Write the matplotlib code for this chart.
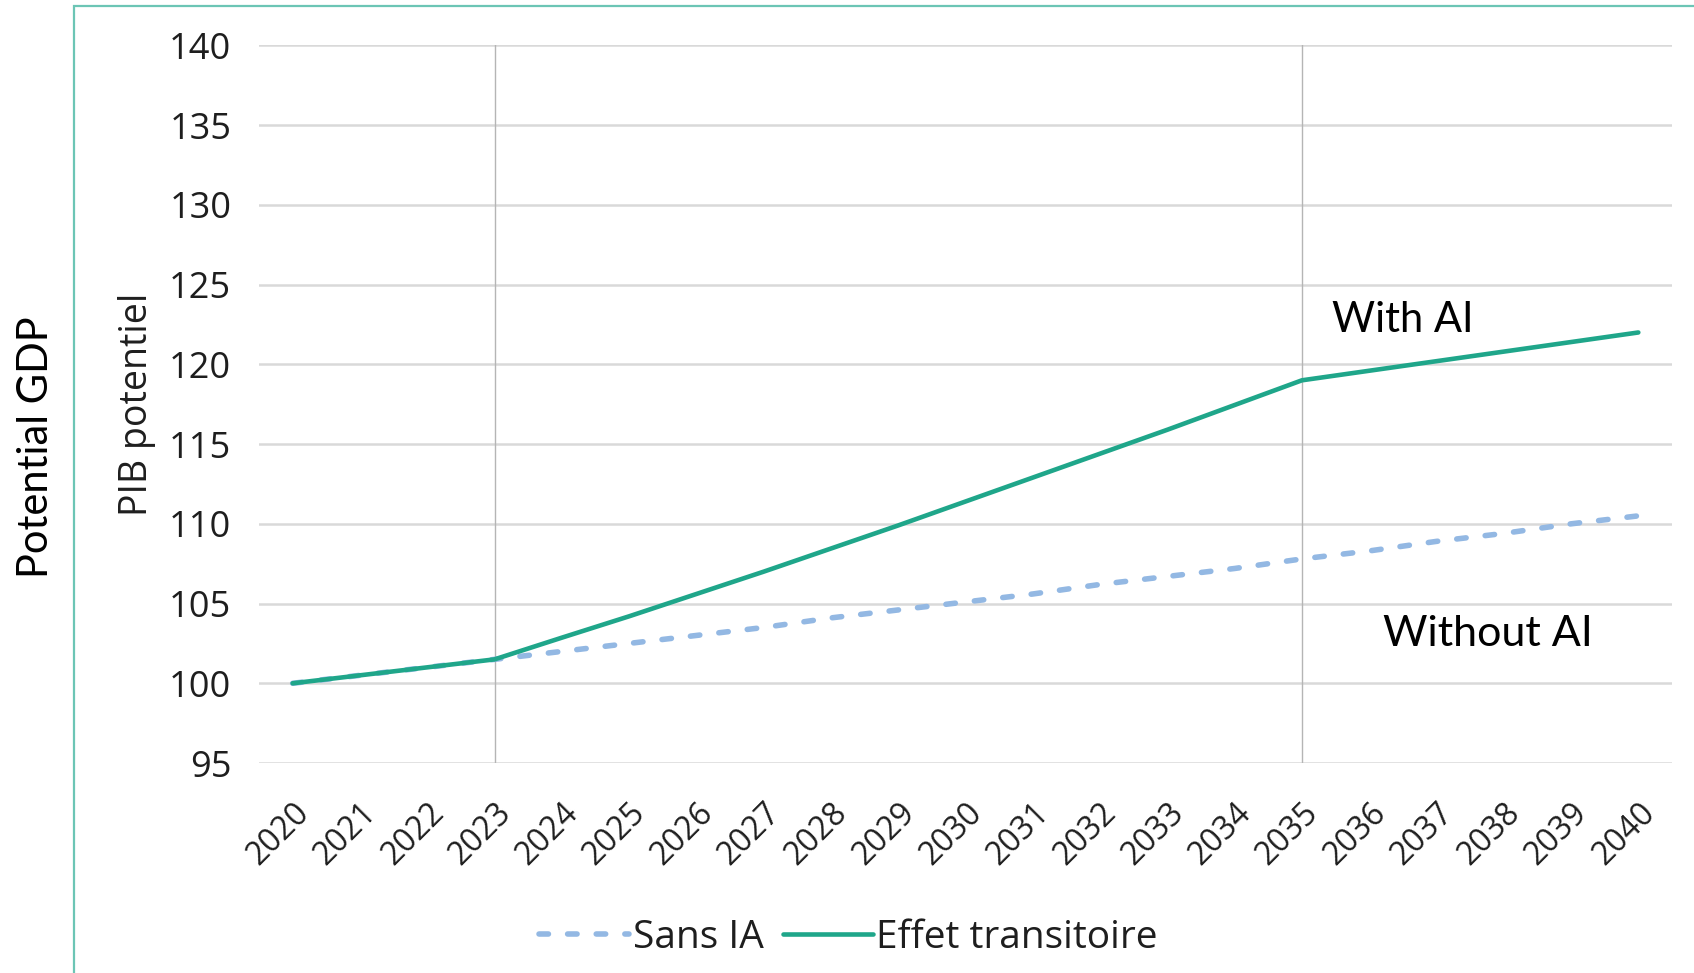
import matplotlib
matplotlib.use("Agg")
import matplotlib.pyplot as plt
from matplotlib.patches import Rectangle

years = [str(y) for y in range(2020, 2041)]

# Potential GDP index (2020 = 100)
sans_ia = [100.0, 100.5, 101.0, 101.5, 102.0, 102.5, 103.0, 103.5, 104.1, 104.6,
           105.1, 105.6, 106.2, 106.7, 107.2, 107.8, 108.3, 108.9, 109.4, 110.0, 110.5]
effet_transitoire = [100.0, 100.5, 101.0, 101.5, 102.86, 104.2, 105.6, 107.0, 108.45,
                     109.9, 111.4, 112.9, 114.4, 115.9, 117.45, 119.0, 119.6, 120.2,
                     120.8, 121.4, 122.0]
marker_years = ["2023", "2035"]
y_ticks = list(range(95, 141, 5))

GREEN = "#1fa68a"
BLUE = "#93b8e3"
INK = "#1e1e1e"
TICK_FONT = ["Open Sans", "DejaVu Sans"]
NOTE_FONT = ["Lato", "DejaVu Sans"]

fig = plt.figure(figsize=(16.94, 9.73), dpi=100)
fig.patch.set_facecolor("white")

# thin teal frame around the chart
fig.patches.append(Rectangle((0.0437, -0.05), 1.0, 1.0438, transform=fig.transFigure,
                             fill=False, edgecolor="#6cc5b5", linewidth=1.6))

ax = fig.add_axes([0.1529, 0.2158, 0.8341, 0.7375])
x = list(range(len(years)))

ax.set_xlim(-0.5, len(years) - 0.5)
ax.set_ylim(95, 140)
ax.set_yticks(y_ticks)
ax.set_yticklabels([str(t) for t in y_ticks], fontsize=26, family=TICK_FONT, color=INK)
ax.set_xticks(x)
ax.set_xticklabels(years, rotation=45, ha="right", rotation_mode="anchor",
                   fontsize=23, family=TICK_FONT, color=INK)
ax.tick_params(axis="both", length=0)
ax.tick_params(axis="y", pad=20)
ax.tick_params(axis="x", pad=24)

for s in ax.spines.values():
    s.set_visible(False)
ax.grid(axis="y", color="#d9d9d9", linewidth=1.8)
ax.set_axisbelow(True)

for yr in marker_years:
    ax.axvline(years.index(yr), color="#b5b5b5", linewidth=1.0, zorder=1)

ax.plot(x, sans_ia, color=BLUE, linewidth=4.0, linestyle=(0, (1.7, 3.45)),
        dash_capstyle="round", label="Sans IA", zorder=2)
ax.plot(x, effet_transitoire, color=GREEN, linewidth=3.3, solid_capstyle="round",
        label="Effet transitoire", zorder=3)

ax.set_ylabel("PIB potentiel", fontsize=27, family=TICK_FONT, color=INK, labelpad=9)

ax.text(15.45, 122.8, "With AI", fontsize=30, family=NOTE_FONT, color="black",
        ha="left", va="center")
ax.text(16.2, 103.1, "Without AI", fontsize=31, family=NOTE_FONT, color="black",
        ha="left", va="center")

fig.text(0.0215, 0.54, "Potential GDP", rotation=90, fontsize=30, family=NOTE_FONT,
         ha="center", va="center", color="black")

leg = fig.legend(loc="center", bbox_to_anchor=(0.501, 0.036), ncol=2, frameon=False,
                 prop={"family": TICK_FONT, "size": 28}, handlelength=2.3,
                 handletextpad=0.1, columnspacing=0.5, labelcolor=INK)

fig.savefig("out.png", dpi=100, facecolor="white")
